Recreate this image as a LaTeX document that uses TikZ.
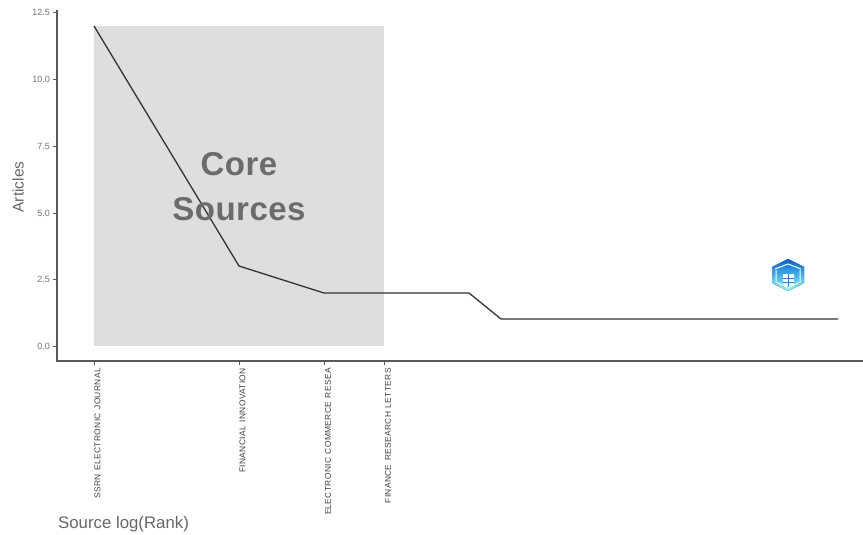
\documentclass[tikz,border=0pt]{standalone}
\usepackage{fontspec}
\setmainfont{Liberation Sans}
\newfontfamily\xlabfont[LetterSpace=4,WordSpace=1.4]{Liberation Sans}
\newfontfamily\corefont[LetterSpace=1.5]{Liberation Sans}
\begin{document}
\begin{tikzpicture}[x=1pt,y=-1pt,
 tick/.style={draw=black!65,line width=0.8pt},
 axisline/.style={draw=black!65,line width=2pt},
 ylab/.style={anchor=east,inner sep=0pt,font=\fontsize{9}{10}\selectfont,text=black!55},
 xlab/.style={anchor=east,rotate=90,inner sep=0pt,font=\xlabfont\fontsize{8.4}{9}\selectfont,text=black!75},
 title/.style={inner sep=0pt,text=black!60},
 core/.style={inner sep=0pt,font=\corefont\fontsize{33}{34}\selectfont\bfseries,text=black!58}]
\useasboundingbox (0,0) rectangle (863,535);
\fill[black!13] (94,26) rectangle (384,346);
% axes
\coordinate (o) at (56.5,361);
\coordinate (yt) at (56.5,10);
\coordinate (xe) at (863,361);
\draw[axisline] (yt) -- (o) -- (xe);
% y ticks
\foreach \y/\t in {12/12.5,79/10.0,146/7.5,213/5.0,279/2.5,346/0.0}{
  \coordinate (a) at (52.5,\y); \coordinate (b) at (56,\y);
  \draw[tick] (a) -- (b);
  \node[ylab] at (50,\y) {\t};
}
% x ticks and labels
\foreach \x/\t/\lx in {94/SSRN ELECTRONIC JOURNAL/97.5,239/FINANCIAL INNOVATION/242.5,324/ELECTRONIC COMMERCE RESEA/328,384/FINANCE RESEARCH LETTERS/388}{
  \coordinate (a) at (\x,361); \coordinate (b) at (\x,365);
  \draw[tick] (a) -- (b);
  \node[xlab] at (\lx,368) {\t};
}
% line
\coordinate (p1) at (94,26);
\coordinate (p2) at (239,266);
\coordinate (p3) at (324,293);
\coordinate (p4) at (469,293);
\coordinate (p5) at (501,319);
\coordinate (p6) at (838,319);
\draw[black!80,line width=1.3pt,line join=round] (p1) -- (p2) -- (p3) -- (p4) -- (p5) -- (p6);
% labels
\node[core] at (239,164) {Core};
\node[core] at (239,209) {Sources};
\node[title,rotate=90,font=\fontsize{15.5}{18}\selectfont] at (18,187) {Articles};
\node[title,anchor=west,font=\fontsize{16.8}{18}\selectfont] at (58,524) {Source log(Rank)};
% icon
\fill[top color=blue!55!cyan!85!black,bottom color=cyan!45!white] (788,259) -- (804,267) -- (804,283) -- (788,291) -- (772,283) -- (772,267) -- cycle;
\draw[white,line width=1pt] (776,270) -- (776,282) -- (788,288) -- (800,282) -- (800,270);
\draw[white,line width=1pt] (775,269) -- (788,264) -- (801,269);
\fill[white] (783,274) rectangle (794,286);
\draw[blue!50!cyan,line width=0.7pt] (783,278) -- (794,278) (783,282) -- (794,282) (788.5,274) -- (788.5,286);
\end{tikzpicture}
\end{document}
